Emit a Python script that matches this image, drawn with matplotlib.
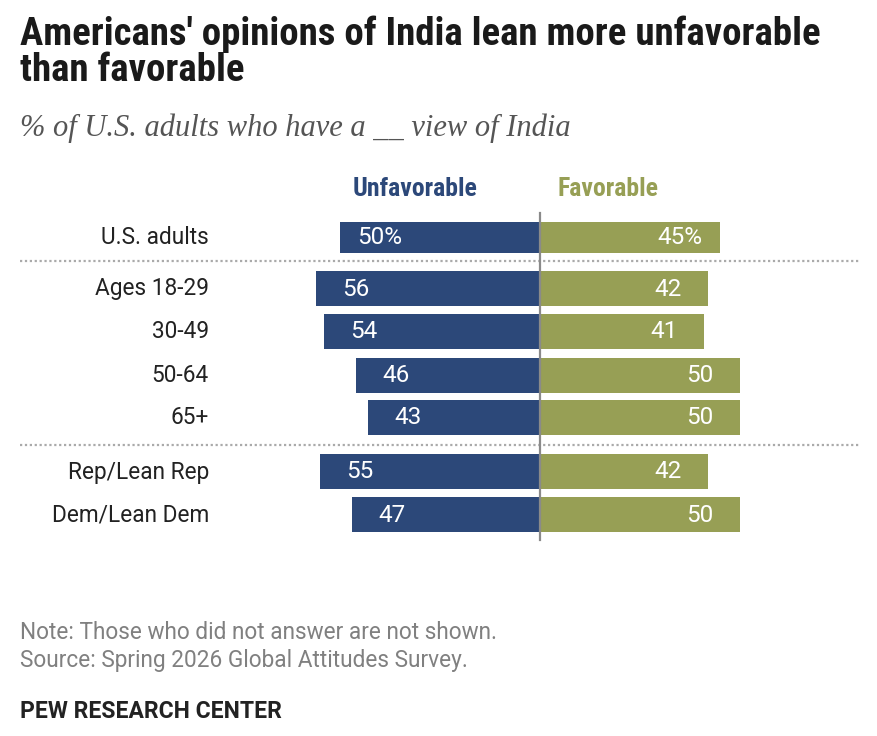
import matplotlib
matplotlib.use("Agg")
import matplotlib.pyplot as plt
from matplotlib import font_manager as fm

# ---- data ----
categories = ["U.S. adults", "Ages 18-29", "30-49", "50-64", "65+", "Rep/Lean Rep", "Dem/Lean Dem"]
unfavorable = [50, 56, 54, 46, 43, 55, 47]
favorable = [45, 42, 41, 50, 50, 42, 50]

NAVY = "#2C4879"
OLIVE = "#979F55"

names = {f.name for f in fm.fontManager.ttflist}
def pick(*c):
    for n in c:
        if n in names:
            return n
    return "DejaVu Sans"
COND = pick("Roboto Condensed", "Liberation Sans Narrow", "Roboto", "Liberation Sans")
SANS = pick("Roboto", "Liberation Sans")
SERIF = pick("Liberation Serif", "DejaVu Serif")

W, H = 878, 736
fig = plt.figure(figsize=(W / 100, H / 100), dpi=100)
ax = fig.add_axes([0, 0, 1, 1])
# x in data units: 4 px per percentage point, zero at px 540
ax.set_xlim(-540 / 4, (W - 540) / 4)
ax.set_ylim(H, 0)
ax.axis("off")

# layout (pixel rows)
ypos = [237, 288, 331, 375, 417, 471, 514]
heights = [31, 35, 35, 35, 35, 35, 35]

ax.barh(ypos, [-u for u in unfavorable], height=heights, color=NAVY, zorder=2)
ax.barh(ypos, favorable, height=heights, color=OLIVE, zorder=2)

for i, (y, u, f) in enumerate(zip(ypos, unfavorable, favorable)):
    su = f"{u}%" if i == 0 else f"{u}"
    sf = f"{f}%" if i == 0 else f"{f}"
    ax.text(-(u - 10), y + 1, su, color="white", fontsize=17.5, family=SANS,
            ha="center", va="center", zorder=3)
    ax.text(f - 10, y + 1, sf, color="white", fontsize=17.5, family=SANS,
            ha="center", va="center", zorder=3)
    ax.text(209 / 4 - 135, y + 1, categories[i], color="#222222", fontsize=16.3,
            family=SANS, ha="right", va="center")

# center line
ax.plot([0, 0], [213, 540], color="#8a8a8a", lw=1.6, zorder=4)
# dotted separators
for yy in (261, 445):
    ax.plot([20 / 4 - 135, 860 / 4 - 135], [yy, yy], color="#aaaaaa", lw=1.6,
            ls=(0, (1, 1.2)), zorder=1)

# headers
ax.text(415 / 4 - 135, 189, "Unfavorable", color=NAVY, fontsize=18.5, fontweight="bold",
        family=COND, ha="center", va="center")
ax.text(608 / 4 - 135, 189, "Favorable", color=OLIVE, fontsize=18.5, fontweight="bold",
        family=COND, ha="center", va="center")

# title / subtitle
fig.text(20 / W, 1 - 45 / H, "Americans' opinions of India lean more unfavorable",
         fontsize=28, fontweight="bold", family=COND, color="#1a1a1a", va="baseline")
fig.text(20 / W, 1 - 81 / H, "than favorable",
         fontsize=28, fontweight="bold", family=COND, color="#1a1a1a", va="baseline")
fig.text(20 / W, 1 - 136 / H, "% of U.S. adults who have a __ view of India",
         fontsize=22, style="italic", family=SERIF, color="#555555", va="baseline")

# footer
fig.text(20 / W, 1 - 639 / H, "Note: Those who did not answer are not shown.",
         fontsize=16.3, family=SANS, color="#808080", va="baseline")
fig.text(20 / W, 1 - 667 / H, "Source: Spring 2026 Global Attitudes Survey.",
         fontsize=16.3, family=SANS, color="#808080", va="baseline")
fig.text(20 / W, 1 - 718 / H, "PEW RESEARCH CENTER",
         fontsize=16.5, fontweight="bold", family=SANS, color="#222222", va="baseline")

fig.savefig("out.png", dpi=100)
